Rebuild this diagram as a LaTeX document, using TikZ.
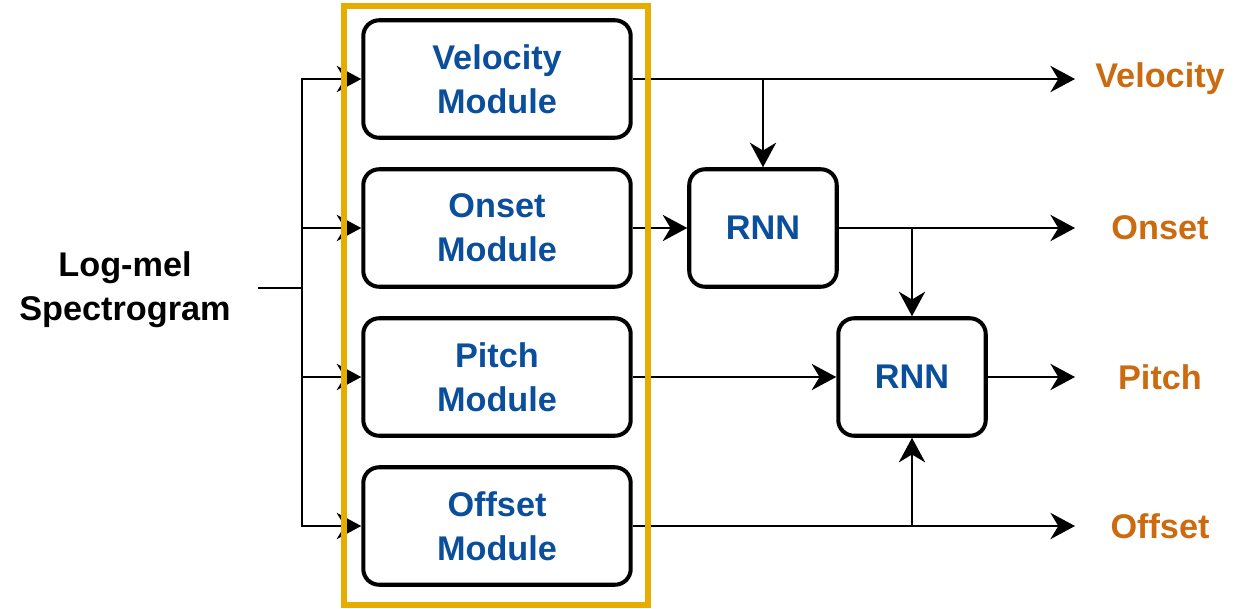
\documentclass[tikz,border=0pt]{standalone}
\usepackage{fontspec}
\setmainfont{Liberation Sans}
\usepackage{tikz}
\usetikzlibrary{arrows.meta, positioning, calc}

\definecolor{modblue}{HTML}{0B4F9C}
\definecolor{outorange}{HTML}{CC6A10}
\definecolor{frameyel}{HTML}{E6AC00}

\begin{document}
\begin{tikzpicture}[
  x=0.02cm, y=-0.02cm,
  font=\fontsize{19.5}{25}\selectfont\bfseries,
  fleche/.style={
    -{Stealth[length=14pt, width=15pt, inset=4.5pt]},
    line width=1.2pt, draw=black
  },
  module/.style={
    draw, line width=2.3pt, rounded corners=9pt, fill=white,
    align=center, text=modblue,
    minimum width=5.35cm, minimum height=2.35cm
  },
  rnn/.style={module, minimum width=2.95cm},
  sortie/.style={text=outorange, anchor=center}
]
\useasboundingbox (0,0) rectangle (1235,609);

% --- 1. Entree ---
\node[align=center] (spec) at (125,290) {Log-mel\\Spectrogram};
\coordinate (in) at (258,288);
\coordinate (bus) at (302,288);

% --- 2. Modules ---
\node[module] (vel) at (497,79)  {Velocity\\Module};
\node[module] (ons) at (497,228) {Onset\\Module};
\node[module] (pit) at (497,377) {Pitch\\Module};
\node[module] (off) at (497,526) {Offset\\Module};

% --- 3. RNN ---
\node[rnn] (rnnA) at (763,228) {RNN};
\node[rnn] (rnnB) at (912,377) {RNN};

% --- 4. Sorties ---
\coordinate (oVel) at (1075,79);
\coordinate (oOns) at (1075,228);
\coordinate (oPit) at (1075,377);
\coordinate (oOff) at (1075,526);
\node[sortie] (lVel) at (1160,79)  {Velocity};
\node[sortie] (lOns) at (1160,228) {Onset};
\node[sortie] (lPit) at (1160,377) {Pitch};
\node[sortie] (lOff) at (1160,526) {Offset};

% Fleches d'entree
\draw[line width=1.2pt] (in) -- (bus);
\foreach \m in {vel, ons, pit, off}
  \draw[fleche] (bus) |- (\m.west);

% Fleches de sortie
\draw[fleche] (vel.east) -- (oVel);
\draw[fleche] (vel.east -| rnnA.north) -- (rnnA.north);
\draw[fleche] (ons.east) -- (rnnA.west);
\draw[fleche] (rnnA.east) -- (oOns);
\draw[fleche] (rnnA.east -| rnnB.north) -- (rnnB.north);
\draw[fleche] (pit.east) -- (rnnB.west);
\draw[fleche] (rnnB.east) -- (oPit);
\draw[fleche] (off.east) -- (oOff);
\draw[fleche] (off.east -| rnnB.south) -- (rnnB.south);

% Cadre jaune par-dessus
\draw[frameyel, line width=2.9pt] (344,6) rectangle (648,605);

\end{tikzpicture}
\end{document}
